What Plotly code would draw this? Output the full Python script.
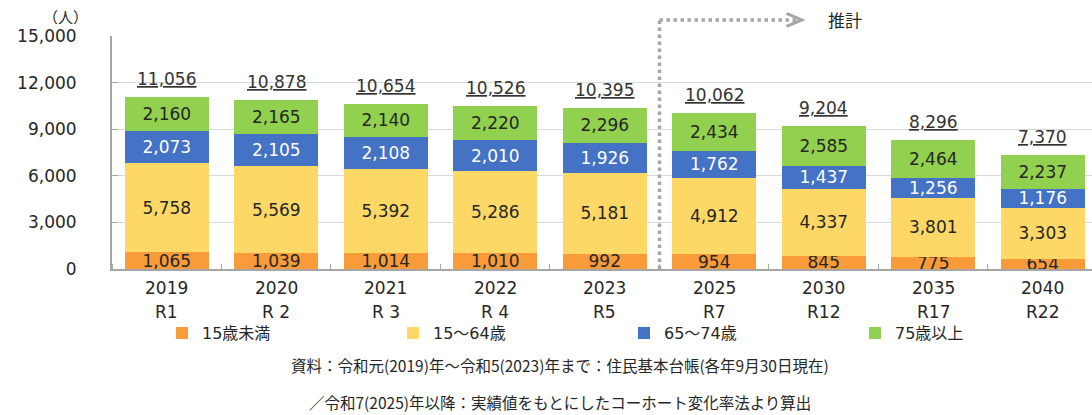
import plotly.graph_objects as go

years = ["2019", "2020", "2021", "2022", "2023", "2025", "2030", "2035", "2040"]
reiwa = ["R1", "R 2", "R 3", "R 4", "R5", "R7", "R12", "R17", "R22"]
under15 = [1065, 1039, 1014, 1010, 992, 954, 845, 775, 654]
age15_64 = [5758, 5569, 5392, 5286, 5181, 4912, 4337, 3801, 3303]
age65_74 = [2073, 2105, 2108, 2010, 1926, 1762, 1437, 1256, 1176]
age75plus = [2160, 2165, 2140, 2220, 2296, 2434, 2585, 2464, 2237]
totals = [11056, 10878, 10654, 10526, 10395, 10062, 9204, 8296, 7370]
y_ticks = [0, 3000, 6000, 9000, 12000, 15000]

series = [
    ("15歳未満", under15, "#F89B38", "#262626"),
    ("15～64歳", age15_64, "#FED866", "#262626"),
    ("65～74歳", age65_74, "#4472C4", "#FFFFFF"),
    ("75歳以上", age75plus, "#92D050", "#262626"),
]

FONT = "DejaVu Sans, Noto Sans CJK JP, sans-serif"
JFONT = "Noto Sans CJK JP, sans-serif"
NUM = 17
xs = list(range(len(years)))

fig = go.Figure()
for name, vals, color, tcolor in series:
    fig.add_trace(go.Bar(
        x=xs, y=vals, name=name,
        marker=dict(color=color, line=dict(width=0)),
        text=[f"{v:,}" for v in vals],
        textposition="inside", insidetextanchor="middle",
        textfont=dict(family=FONT, size=NUM, color=tcolor),
        width=0.77,
    ))

annotations = []
for i, t in enumerate(totals):
    annotations.append(dict(x=xs[i], y=t, xref="x", yref="y", text=f"<u>{t:,}</u>",
                            showarrow=False, yanchor="bottom", yshift=6,
                            font=dict(family=FONT, size=NUM, color="#333333")))
    annotations.append(dict(x=xs[i], y=0, xref="x", yref="y", text=years[i],
                            showarrow=False, yanchor="middle", yshift=-19,
                            font=dict(family=FONT, size=NUM, color="#262626")))
    annotations.append(dict(x=xs[i], y=0, xref="x", yref="y", text=reiwa[i],
                            showarrow=False, yanchor="middle", yshift=-43,
                            font=dict(family=FONT, size=NUM, color="#262626")))

annotations += [
    dict(x=-0.047, y=1.085, xref="paper", yref="paper", text="（人）", showarrow=False,
         xanchor="center", yanchor="middle", font=dict(family=JFONT, size=15, color="#262626")),
    dict(x=6.02, y=1.069, xref="x", yref="paper", text="推計", showarrow=False,
         xanchor="left", yanchor="middle", font=dict(family=JFONT, size=17, color="#262626")),
    dict(x=0.457, y=-0.41, xref="paper", yref="paper",
         text="資料：令和元(2019)年～令和5(2023)年まで：住民基本台帳(各年9月30日現在)",
         showarrow=False, xanchor="center", yanchor="middle",
         font=dict(family=JFONT, size=15.5, color="#262626")),
    dict(x=0.457, y=-0.57, xref="paper", yref="paper",
         text="／令和7(2025)年以降：実績値をもとにしたコーホート変化率法より算出",
         showarrow=False, xanchor="center", yanchor="middle",
         font=dict(family=JFONT, size=15.5, color="#262626")),
]

shapes = [
    dict(type="line", x0=4.5, x1=4.5, y0=0, y1=1.069, xref="x", yref="paper",
         line=dict(color="#A6A6A6", width=3.5, dash="dot")),
    dict(type="line", x0=4.5, x1=5.78, y0=1.069, y1=1.069, xref="x", yref="paper",
         line=dict(color="#A6A6A6", width=3.5, dash="dot")),
    dict(type="path", xref="x", yref="paper",
         path="M 5.66,1.097 L 5.80,1.069 L 5.66,1.041",
         line=dict(color="#A6A6A6", width=3)),
]

fig.update_layout(
    width=1092, height=415,
    margin=dict(l=112, r=0, t=36, b=146, autoexpand=False),
    paper_bgcolor="white", plot_bgcolor="white",
    barmode="stack", bargap=0.23,
    font=dict(family=FONT, size=16, color="#262626"),
    uniformtext=dict(minsize=NUM, mode="show"),
    xaxis=dict(range=[-0.5, 8.45], tickvals=xs, ticktext=["" for _ in xs], ticks="",
               showgrid=False, showline=True, linecolor="#A6A6A6", linewidth=2,
               minor=dict(ticks="inside", tick0=-0.5, dtick=1, ticklen=5,
                          tickcolor="#A6A6A6", tickwidth=1, showgrid=False),
               zeroline=False, fixedrange=True, automargin=False),
    yaxis=dict(range=[0, 15000], tickvals=y_ticks, tickformat=",",
               showgrid=True, gridcolor="#D9D9D9", gridwidth=1,
               showline=True, linecolor="#A6A6A6", linewidth=2,
               ticks="inside", ticklen=6, tickcolor="#A6A6A6",
               ticklabelstandoff=30, zeroline=False, automargin=False,
               tickfont=dict(family=FONT, size=NUM, color="#262626")),
    legend=dict(orientation="h", x=0.051, y=-0.275, xanchor="left", yanchor="middle",
                entrywidth=186, entrywidthmode="pixels", itemwidth=30,
                traceorder="normal",
                font=dict(family=FONT, size=16, color="#262626")),
    annotations=annotations,
    shapes=shapes,
)

fig.write_html("out.html", config={"displayModeBar": False},
               post_script="document.body.style.margin='0';document.body.style.overflow='hidden';")
